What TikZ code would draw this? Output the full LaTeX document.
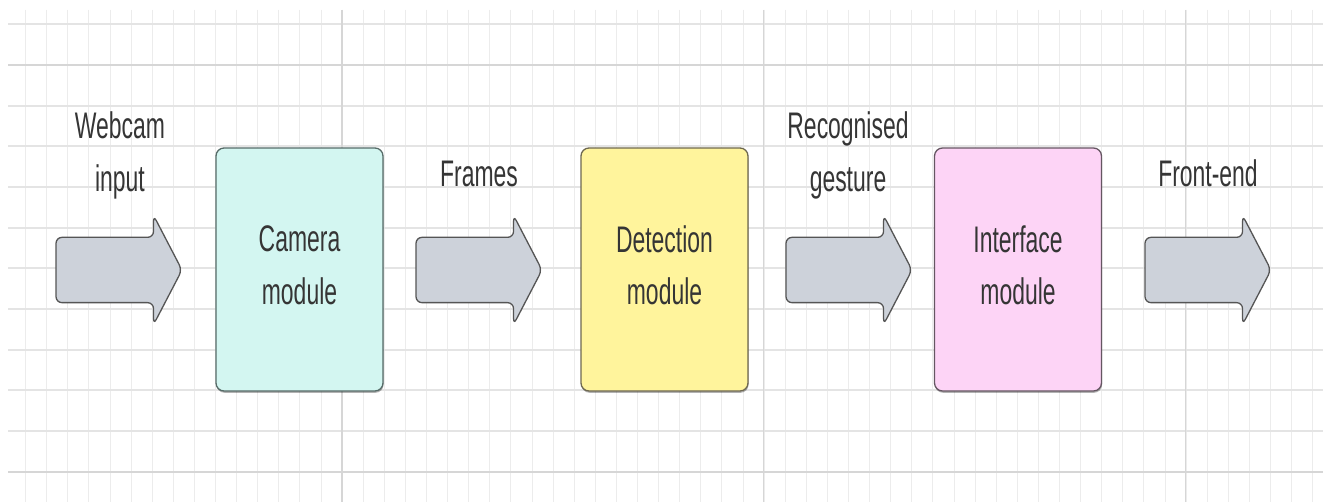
\documentclass[tikz,border=0pt]{standalone}
\usepackage{fontspec}
\setmainfont{Liberation Sans}
\usepackage{graphicx}
\usetikzlibrary{shapes.arrows,shadows}
\definecolor{gridminor}{HTML}{ECECEC}
\definecolor{gridh}{HTML}{E4E4E4}
\definecolor{gridmajor}{HTML}{D6D6D6}
\definecolor{arrowfill}{HTML}{CDD2DA}
\definecolor{arrowline}{HTML}{555555}
\definecolor{camfill}{HTML}{D3F6F1}
\definecolor{camline}{HTML}{566B68}
\definecolor{detfill}{HTML}{FFF49C}
\definecolor{detline}{HTML}{6E6850}
\definecolor{intfill}{HTML}{FDD4F6}
\definecolor{intline}{HTML}{655662}
\definecolor{textcol}{HTML}{353535}
\newcommand\lblfont{\fontsize{37}{52.5}\selectfont}
\newcommand\sx[1]{\scalebox{0.62}[1]{#1}}
\begin{document}
\begin{tikzpicture}[x=1pt,y=-1pt,
  minorgrid/.style={draw=gridminor, line width=0.8pt},
  hgrid/.style={draw=gridh, line width=2pt},
  majorgrid/.style={draw=gridmajor, line width=1.2pt},
  blockarrow/.style={single arrow, draw=arrowline, fill=arrowfill, line width=1.3pt,
    minimum height=126pt, minimum width=108pt, inner xsep=0pt, inner ysep=32pt,
    single arrow head extend=22pt, single arrow tip angle=125,
    rounded corners=6pt, outer sep=0pt, anchor=tail},
  modbox/.style={draw, line width=1.3pt, rounded corners=8pt, minimum width=167pt,
    minimum height=243pt, align=center, font=\lblfont, text=textcol, text depth=9pt,
    drop shadow={shadow xshift=0.5pt, shadow yshift=-1.8pt, fill=black, opacity=0.3}},
  lbl/.style={align=center, font=\lblfont, text=textcol, inner sep=0pt}]
\useasboundingbox (0,0) rectangle (1323,502);
\fill[white] (0,0) rectangle (1323,502);
% grid
\foreach \i in {0,...,61}
  \draw[minorgrid] ({25.5+21.1*\i},10) -- ({25.5+21.1*\i},502);
\foreach \j in {0,...,11}
  \draw[hgrid] (8,{24.2+40.7*\j}) -- (1323,{24.2+40.7*\j});
\draw[majorgrid] (342,10) -- (342,502);
\draw[majorgrid] (763.5,10) -- (763.5,502);
\draw[majorgrid] (1185.5,10) -- (1185.5,502);
\draw[draw=gridmajor, line width=2.6pt] (8,64.9) -- (1323,64.9);
\draw[draw=gridmajor, line width=2.6pt] (8,471.9) -- (1323,471.9);
% modules
\node[modbox, draw=camline, fill=camfill] (cam) at (299.5,269.5) {\sx{Camera}\\\sx{module}};
\node[modbox, draw=detline, fill=detfill] (det) at (664.5,269.5) {\sx{Detection}\\\sx{module}};
\node[modbox, draw=intline, fill=intfill] (int) at (1018,269.5) {\sx{Interface}\\\sx{module}};
% block arrows
\node[blockarrow] (a1) at (56,270) {};
\node[blockarrow] (a2) at (416,270) {};
\node[blockarrow] (a3) at (786,270) {};
\node[blockarrow] (a4) at (1145,270) {};
% labels
\node[lbl] (l1) at (120,155.4) {\sx{Webcam}\\\sx{input}};
\node[lbl] (l2) at (479,173.5) {\sx{Frames}};
\node[lbl] (l3) at (848,155.4) {\sx{Recognised}\\\sx{gesture}};
\node[lbl] (l4) at (1208,173.5) {\sx{Front-end}};
\end{tikzpicture}
\end{document}
